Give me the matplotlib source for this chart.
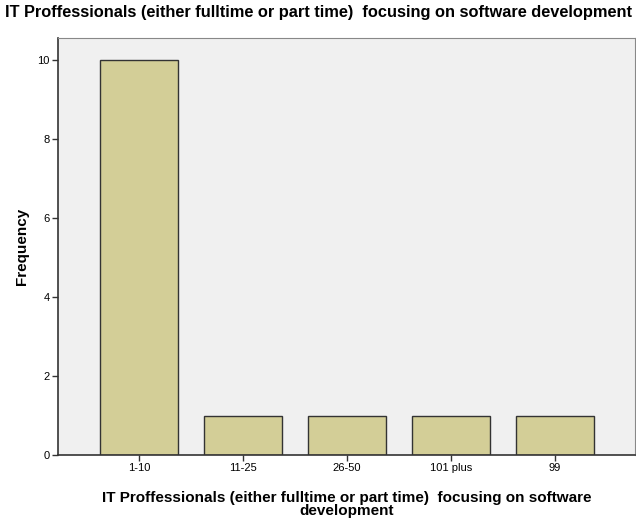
import matplotlib.pyplot as plt

categories = ['1-10', '11-25', '26-50', '101 plus', '99']
counts = [10, 1, 1, 1, 1]
yticks = [0, 2, 4, 6, 8, 10]

plt.rcParams['font.family'] = ['Liberation Sans', 'DejaVu Sans']

fig = plt.figure(figsize=(6.36, 5.25), dpi=100)
ax = fig.add_axes([0.0912, 0.1333, 0.907, 0.7943])
ax.set_facecolor('#f0f0f0')

x = range(len(categories))
ax.bar(x, counts, width=0.75, color='#d3ce97', edgecolor='#333333', linewidth=1.0, zorder=2)

ax.set_xlim(-0.78, 4.77)
ax.set_ylim(0, 10.56)
ax.set_xticks(list(x))
ax.set_xticklabels(categories, fontsize=8)
ax.set_yticks(yticks)
ax.set_yticklabels([str(v) for v in yticks], fontsize=8)
ax.tick_params(direction='out', length=4, width=1, color='#333333', pad=2)

for side in ['left', 'bottom']:
    ax.spines[side].set_color('#333333')
    ax.spines[side].set_linewidth(1.2)
for side in ['top', 'right']:
    ax.spines[side].set_color('#888888')
    ax.spines[side].set_linewidth(0.8)

ax.set_ylabel('Frequency', fontsize=11, fontweight='bold', labelpad=6)
ax.set_xlabel('IT Proffessionals (either fulltime or part time)  focusing on software\ndevelopment',
              fontsize=11, fontweight='bold', linespacing=0.85, labelpad=13)
fig.text(0.008, 0.977, 'IT Proffessionals (either fulltime or part time)  focusing on software development',
         fontsize=11.8, fontweight='bold', ha='left', va='center')

fig.savefig('out.png', dpi=100)
